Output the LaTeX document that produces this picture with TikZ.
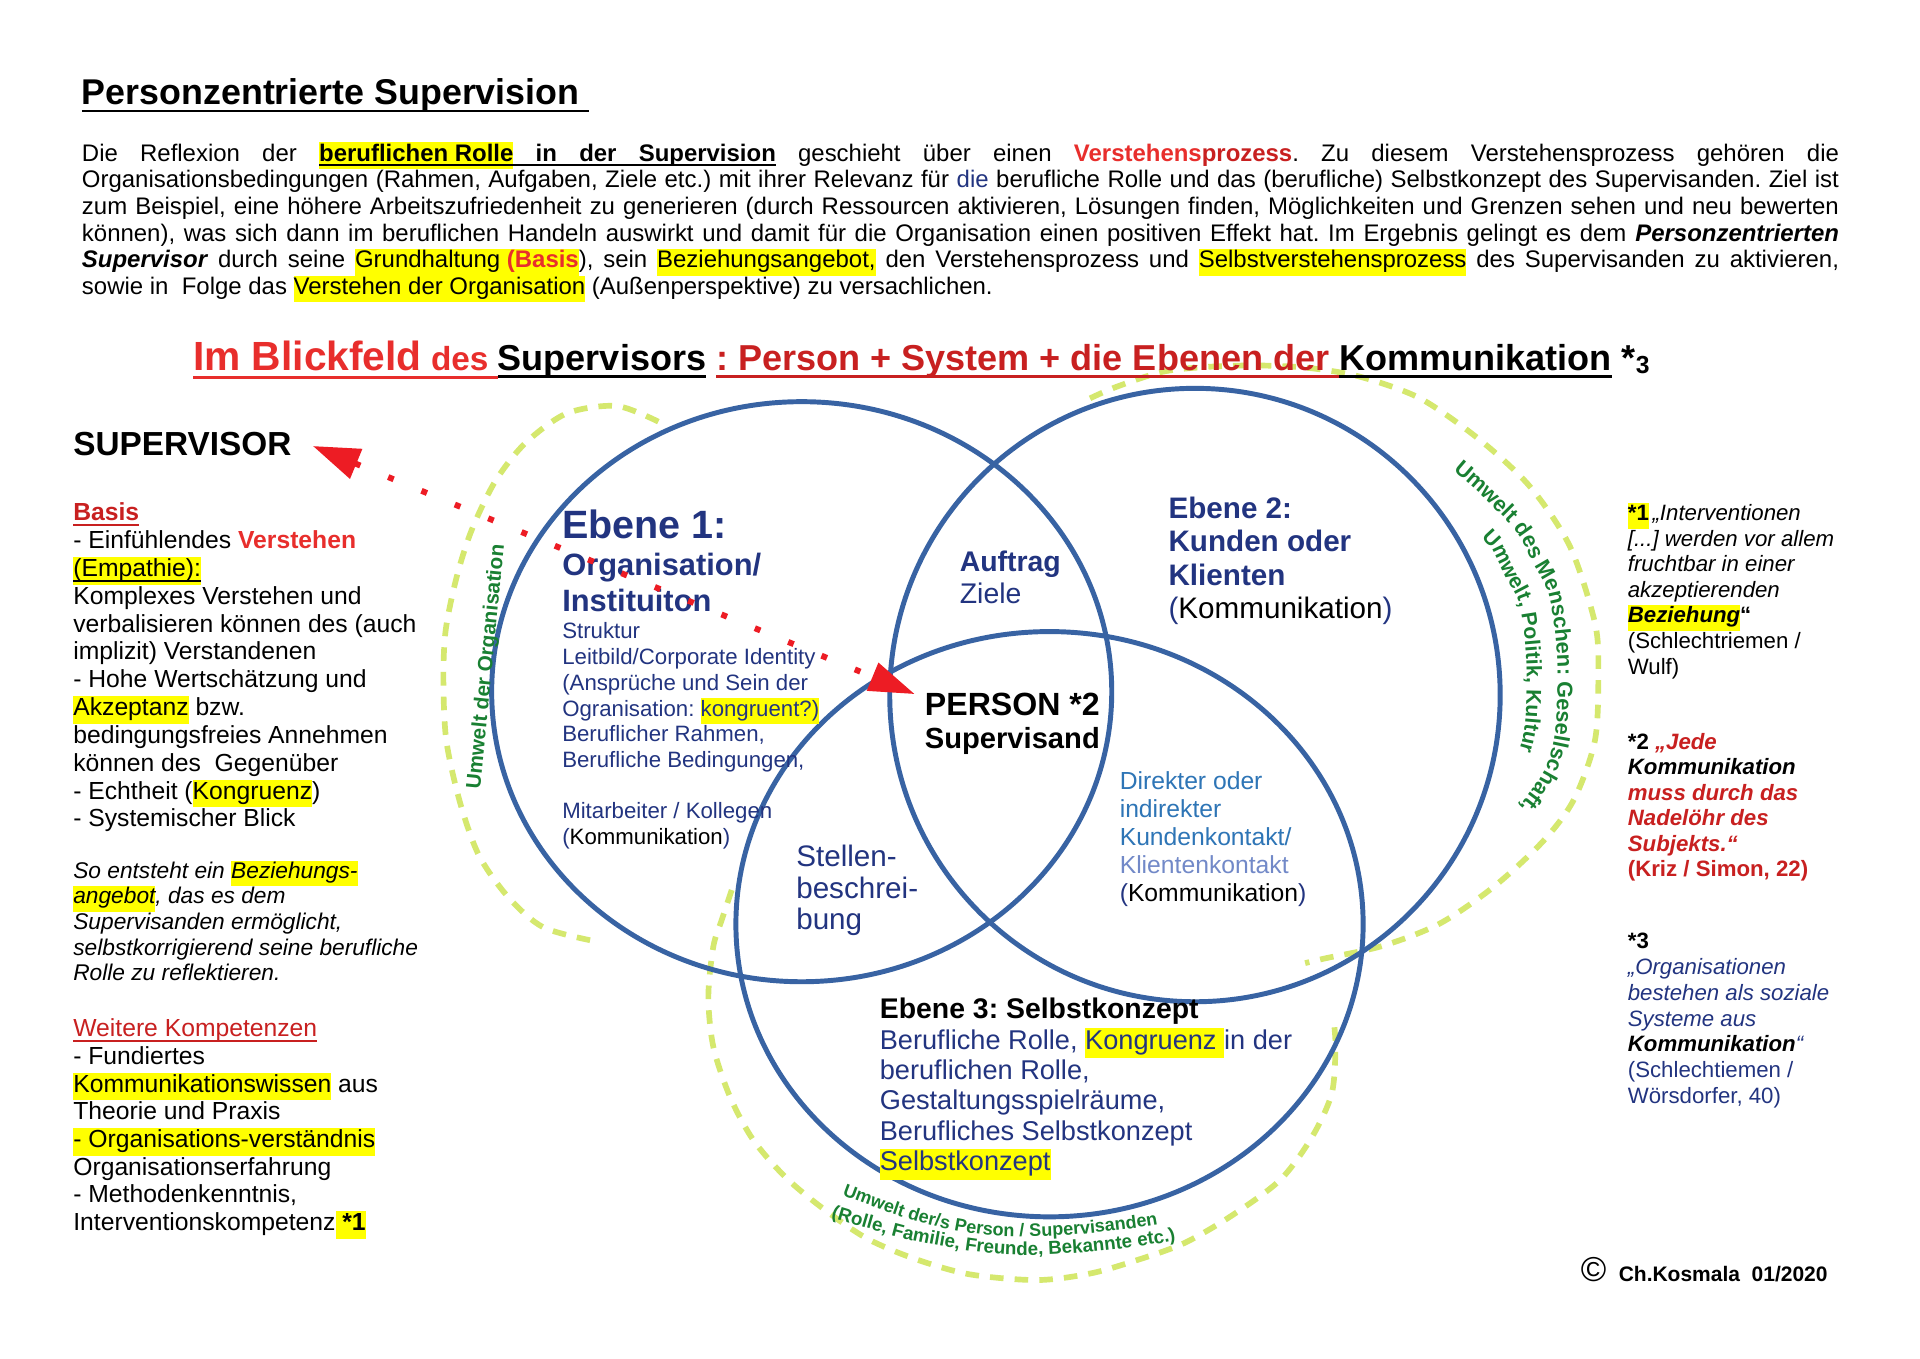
\documentclass[tikz,border=0pt]{standalone}
\usepackage{fontspec}
\setmainfont{Liberation Sans}
\usetikzlibrary{arrows.meta,decorations.text}
\frenchspacing

\definecolor{navy}{RGB}{34,52,128}
\definecolor{ringblue}{RGB}{56,99,163}
\definecolor{skyblue}{RGB}{46,117,182}
\definecolor{paleblue}{RGB}{114,137,200}
\definecolor{redA}{RGB}{232,46,44}
\definecolor{redB}{RGB}{200,32,32}
\definecolor{arrred}{RGB}{237,28,36}
\definecolor{grn}{RGB}{25,128,50}
\definecolor{dashgrn}{RGB}{213,232,110}
\definecolor{hly}{RGB}{255,255,0}

\newcommand\fs[2]{\fontsize{#1}{#2}\selectfont}
\newcommand\hl[1]{{\setlength{\fboxsep}{0pt}\colorbox{hly}{\strut#1}}}
\newsavebox\ulbox
\newcommand\ulx[1]{\sbox\ulbox{#1}\leavevmode\rlap{\rule[-0.21em]{\wd\ulbox}{0.07em}}\usebox\ulbox}
\newcommand\ulsp{\leaders\vrule height -0.14em depth 0.21em\hskip\fontdimen2\font
  plus \fontdimen3\font minus \fontdimen4\font\relax}

\begin{document}
\begin{tikzpicture}[x=0.5pt, y=-0.5pt]
  \tikzstyle{txt}=[inner sep=0pt, anchor=base west]
  \tikzstyle{ring}=[draw=ringblue, line width=2pt]
  \tikzstyle{umwelt}=[draw=dashgrn, line width=2.3pt, dash pattern=on 5.5pt off 4.5pt]
  \tikzstyle{gtext}=[inner sep=0pt, text=grn, font=\fs{8.4}{9}\bfseries]
  \tikzstyle{dots}=[draw=arrred, line width=2.4pt, dash pattern=on 2.4pt off 12.2pt,
    {Triangle[length=19pt,width=12.5pt]}-{Triangle[length=18.5pt,width=11.7pt]}]

  \fill[white] (0,0) rectangle (1555,1100);

  % Umwelt arcs
  \draw[umwelt] plot[smooth] coordinates {(533.2,341.5) (499.5,328.8) (459,334.8) (425.2,359.1)
    (400.9,390.1) (382,429.3) (369.9,467.1) (361,510) (359.1,550.7) (361.5,600) (372.6,650)
    (388,693) (412,727) (440,751) (480.5,762)};
  \draw[umwelt] plot[smooth] coordinates {(882.8,322.6) (904.4,313.2) (942,301) (980,297)
    (1020,296) (1060,298) (1101.5,305.1) (1150.1,322.6) (1198.7,356.4) (1239.2,394.2)
    (1271.6,442.8) (1291.8,504.8) (1294.5,545.3) (1291.8,599.3) (1275,647) (1250,681)
    (1210,718) (1166,748) (1120,766) (1074,776) (1057,780)};
  \draw[umwelt] plot[smooth] coordinates {(592.6,720.8) (584.5,745.1) (577.7,766.7) (573.7,807.2)
    (577.7,847.7) (591.2,888.2) (610.1,923.3) (637.1,954.3) (668.2,980) (701.9,1002.9)
    (739.7,1019.1) (785,1032) (840,1036.7) (883.4,1031.3) (921,1020.5) (958.6,1007)
    (996.2,985.4) (1036.7,955.7) (1062.7,920.6) (1078.6,885.5) (1081.6,847.7) (1080.1,826.1)};

  % Ebenen
  \draw[ring] (649.3,560.2) ellipse [x radius=251.1, y radius=234.9];
  \draw[ring] (967.8,562.9) ellipse [x radius=247.2, y radius=248.4];
  \draw[ring] (850,748.5) ellipse [x radius=254, y radius=237];

  % header
  \node[txt] (title) at (66,85) {\fs{14.5}{16}\bfseries\ulx{Personzentrierte Supervision\ }};
  \node[txt] (intro) at (66,130.4) {\parbox[t]{711.5pt}{\fs{9.7}{10.8}\hyphenpenalty=10000
    \exhyphenpenalty=10000 \tolerance=10000
    Die Reflexion der \hl{\textbf{\ulx{beruflichen Rolle}}}\textbf{\ulsp\ulx{in}\ulsp\ulx{der}\ulsp\ulx{Supervision}}
    geschieht über einen \textcolor{redA}{\textbf{Verstehens}}\textcolor{redB}{\textbf{prozess}}.
    Zu diesem Verstehensprozess gehören die\linebreak
    Organisationsbedingungen (Rahmen, Aufgaben, Ziele etc.) mit ihrer Relevanz für
    \textcolor{navy}{die} berufliche Rolle und das (berufliche) Selbstkonzept des Supervisanden.
    Ziel ist\linebreak
    zum Beispiel, eine höhere Arbeitszufriedenheit zu generieren (durch Ressourcen aktivieren,
    Lösungen finden, Möglichkeiten und Grenzen sehen und neu bewerten\linebreak
    können), was sich dann im beruflichen Handeln auswirkt und damit für die Organisation einen
    positiven Effekt hat. Im Ergebnis gelingt es dem \textbf{\textit{Personzentrierten}}\linebreak
    \textbf{\textit{Supervisor}} durch seine \hl{Grundhaltung \textcolor{redA}{\textbf{(Basis}}}),
    sein \hl{Beziehungsangebot,} den Verstehensprozess und \hl{Selbstverstehensprozess} des
    Supervisanden zu aktivieren,\linebreak
    sowie in\ \ Folge das \hl{Verstehen der Organisation} (Außenperspektive) zu versachlichen.}};
  \node[txt] (focus) at (156,299.7) {\bfseries
    \textcolor{redA}{\fs{16.5}{18}\ulx{Im Blickfeld\fs{13.5}{15}\ des\ }}%
    \fs{14.6}{16}\ulx{Supervisors}\ \textcolor{redB}{\ulx{: Person + System + die Ebenen der\ }}%
    \ulx{Kommunikation}\ *\raisebox{-1.5pt}{\fs{10}{10}3}};

  % left column
  \node[txt] (sup) at (59,368.5) {\fs{13.5}{15}\textbf{SUPERVISOR}};
  \node[txt] (basis) at (59,421.8) {\parbox[t]{150pt}{\fs{10}{11.27}\raggedright
    \textcolor{redB}{\textbf{\ulx{Basis}}}\\
    - Einfühlendes \textcolor{redA}{\textbf{Verstehen}}\\
    \hl{\ulx{(Empathie):}}\\
    Komplexes Verstehen und\\
    verbalisieren können des (auch\\
    implizit) Verstandenen\\
    - Hohe Wertschätzung und\\
    \hl{Akzeptanz} bzw.\\
    bedingungsfreies Annehmen\\
    können des\ \ Gegenüber\\
    - Echtheit (\hl{Kongruenz})\\
    - Systemischer Blick}};
  \node[txt] (offer) at (59,711.4) {\parbox[t]{150pt}{\fs{9.2}{10.35}\itshape\raggedright
    So entsteht ein \hl{Beziehungs-}\\
    \hl{angebot}, das es dem\\
    Supervisanden ermöglicht,\\
    selbstkorrigierend seine berufliche\\
    Rolle zu reflektieren.}};
  \node[txt] (skills) at (59,839.6) {\parbox[t]{150pt}{\fs{10}{11.22}\raggedright
    \textcolor{redB}{\ulx{Weitere Kompetenzen}}\\
    - Fundiertes\\
    \hl{Kommunikationswissen} aus\\
    Theorie und Praxis\\
    \hl{- Organisations-verständnis}\\
    Organisationserfahrung\\
    - Methodenkenntnis,\\
    Interventionskompetenz\hl{\ \textbf{*1}}}};

  % right column
  \node[txt] (note1) at (1318,421.9) {\parbox[t]{100pt}{\fs{9}{10.33}\raggedright
    \hl{\textbf{*1}}\,\textit{„Interventionen}\\
    \textit{[...] werden vor allem}\\
    \textit{fruchtbar in einer}\\
    \textit{akzeptierenden}\\
    \hl{\textbf{\textit{Beziehung}}}\textbf{“}\\
    (Schlechtriemen /\\
    Wulf)}};
  \node[txt] (note2) at (1318,606.9) {\parbox[t]{100pt}{\fs{9}{10.32}\raggedright\bfseries
    *2 \textcolor{redB}{\textit{„Jede}}\\
    \textit{Kommunikation}\\
    \textcolor{redB}{\textit{muss durch das}\\
    \textit{Nadelöhr des}\\
    \textit{Subjekts.“}\\
    (Kriz / Simon, 22)}}};
  \node[txt] (note3) at (1318,768.5) {\parbox[t]{100pt}{\fs{9}{10.42}\raggedright
    \textbf{*3}\\
    \textcolor{navy}{\textit{„Organisationen}\\
    \textit{bestehen als soziale}\\
    \textit{Systeme aus}}\\
    \textbf{\textit{Kommunikation}}\textcolor{navy}{\textit{“}}\\
    \textcolor{navy}{(Schlechtiemen /\\
    Wörsdorfer, 40)}}};

  % Ebene 1
  \node[txt, text=navy] (lvl1) at (455,436) {\fs{16}{18}\textbf{Ebene 1:}};
  \node[txt, text=navy] (lvl1org) at (455,465.7) {\parbox[t]{120pt}{\fs{12.5}{14.85}\bfseries
    Organisation/\\ Instituiton}};
  \node[txt, text=navy] (lvl1txt) at (455,517.5) {\parbox[t]{130pt}{\fs{9}{10.4}\raggedright
    Struktur\\
    Leitbild/Corporate Identity\\
    (Ansprüche und Sein der\\
    Ogranisation: \hl{kongruent?)}\\
    Beruflicher Rahmen,\\
    Berufliche Bedingungen,\\[10.4pt]
    Mitarbeiter / Kollegen\\
    (\textcolor{black}{Kommunikation})}};
  \node[txt, text=navy] (task) at (777,463) {\parbox[t]{60pt}{\fs{11.5}{12.8}\textbf{Auftrag}\\ Ziele}};

  % Person
  \node[txt] (per) at (748.5,579.1) {\parbox[t]{71pt}{\centering\bfseries
    \fs{13}{13.5}PERSON *2\\ \fs{11.8}{13.5}Supervisand}};

  % Ebene 2
  \node[txt, text=navy] (lvl2) at (946,419.8) {\parbox[t]{130pt}{\fs{12}{13.5}\raggedright\bfseries
    Ebene 2:\\ Kunden oder\\ Klienten\\ \mdseries(\textcolor{black}{Kommunikation})}};
  \node[txt, text=skyblue] (contact) at (906.5,639.8) {\parbox[t]{110pt}{\fs{10}{11.3}\raggedright
    Direkter oder\\ indirekter\\ Kundenkontakt/\\ \textcolor{paleblue}{Klientenkontakt}\\
    \textcolor{navy}{(}\textcolor{black}{Kommunikation}\textcolor{navy}{)}}};

  % Ebene 3
  \node[txt, text=navy] (job) at (644.5,701.9) {\parbox[t]{60pt}{\fs{12}{12.8}\raggedright
    Stellen-\\ beschrei-\\ bung}};
  \node[txt] (lvl3) at (712.2,824.8) {\fs{11.5}{13}\textbf{Ebene 3: Selbstkonzept}};
  \node[txt, text=navy] (lvl3txt) at (712.2,849.6) {\parbox[t]{200pt}{\fs{11}{12.3}\raggedright
    Berufliche Rolle, \hl{Kongruenz\ }in der\\
    beruflichen Rolle,\\
    Gestaltungsspielräume,\\
    Berufliches Selbstkonzept\\
    \hl{Selbstkonzept}}};

  % Umwelt labels
  \node[gtext, rotate=84.4] (orgenv) at (394.2,540) {Umwelt der Organisation};
  \path[decorate, decoration={text along path, text color=grn,
      text={|\fs{8.8}{9}\bfseries|Umwelt des Menschen: Gesellschaft,}}]
    plot[smooth] coordinates {(1176.9,381.1) (1195.8,397.4) (1212.5,413.6) (1229.5,432.1)
      (1241.2,455.7) (1253.5,479.2) (1259.2,509.8) (1261.5,545.3) (1259.5,592.5)
      (1251.3,623.3) (1234.2,649) (1212.2,672.1) (1177.7,703.7)};
  \path[decorate, decoration={text along path, text color=grn, text align={left indent=5pt},
      text={|\fs{8.6}{9}\bfseries|Umwelt, Politik, Kultur}}]
    plot[smooth] coordinates {(1192.3,428.3) (1207.8,444.5) (1218.2,465.5) (1229.5,486.3)
      (1234.5,513.7) (1236.5,545.3) (1235,587.4) (1227.8,614.9) (1211.9,637.5)};
  \path[decorate, decoration={text along path, text color=grn,
      text={|\fs{7.3}{8}\bfseries|Umwelt der/s Person / Supervisanden}}]
    plot[smooth] coordinates {(682,968) (745,990) (805,1001) (870,1000) (937,992) (990,978) (1030,960)};
  \path[decorate, decoration={text along path, text color=grn,
      text={|\fs{7.6}{8}\bfseries|(Rolle, Familie, Freunde, Bekannte etc.)}}]
    plot[smooth] coordinates {(673,986) (740,1005) (811,1016) (880,1014) (950,1005) (1000,990) (1040,968)};

  % Blickrichtung
  \draw[dots] ([xshift=8.5pt,yshift=-1pt]sup.east) -- ([xshift=-3.8pt,yshift=-0.8pt]per.north west);

  % footer
  \node[txt] (copy) at (1280,1038) {{\fs{14}{14}©}\hspace{5pt}\fs{8.5}{10}\textbf{Ch.Kosmala\ \ 01/2020}};
\end{tikzpicture}
\end{document}
